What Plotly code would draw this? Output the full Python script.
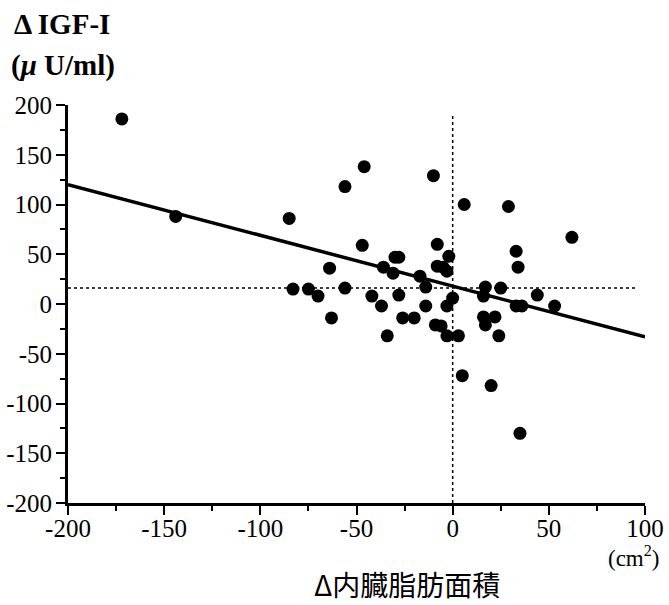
import plotly.graph_objects as go

# Scatter data: Δ visceral fat area (cm2) vs Δ IGF-I (μU/ml)
dx = [-172, -144, -85, -83, -75, -70, -64, -63, -56, -56, -46, -47, -42, -37, -36,
      -34, -31, -30, -28, -28, -26, -20, -17, -14, -14, -10, -9, -8, -8, -5,
      -6, -3, -3, -2, -3, 0, 3, 5, 6, 16, 16, 17, 17, 20, 22, 25,
      24, 29, 33, 33, 34, 36, 35, 44, 53, 62]
dy = [186, 88, 86, 15, 15, 8, 36, -14, 16, 118, 138, 59, 8, -2, 37,
      -32, 31, 47, 47, 9, -14, -14, 28, -2, 17, 129, -21, 60, 38, 37,
      -22, -2, -32, 48, 33, 6, -32, -72, 100, -13, 8, 17, -21, -82, -13, 16,
      -32, 98, -2, 53, 37, -2, -130, 9, -2, 67]

# Regression line end points
fit_x = [-200, 100]
fit_y = [120, -33]

# Reference dotted lines (mean levels)
href_x = [-200, 96]
href_y = [16, 16]
vref_x = [0, 0]
vref_y = [-200, 192]

xticks = [-200, -150, -100, -50, 0, 50, 100]
yticks = [-200, -150, -100, -50, 0, 50, 100, 150, 200]

L, R, T, B = 68, 645, 105, 503
W, H = 669, 605


def px(x):
    return (x - L) / (R - L)


def py(y):
    return (B - y) / (B - T)


fig = go.Figure()
fig.add_trace(go.Scatter(x=href_x, y=href_y, mode="lines",
                         line=dict(color="black", width=1.5, dash="dot"),
                         hoverinfo="skip", showlegend=False))
fig.add_trace(go.Scatter(x=vref_x, y=vref_y, mode="lines",
                         line=dict(color="black", width=1.5, dash="dot"),
                         hoverinfo="skip", showlegend=False))
fig.add_trace(go.Scatter(x=fit_x, y=fit_y, mode="lines",
                         line=dict(color="black", width=3.5),
                         showlegend=False))
fig.add_trace(go.Scatter(x=dx, y=dy, mode="markers",
                         marker=dict(color="black", size=13, line=dict(width=0)),
                         showlegend=False, cliponaxis=False))

tickfont = dict(family="Liberation Serif", size=25, color="black")
fig.update_xaxes(range=[-200, 100], tickvals=xticks, ticktext=[str(v) for v in xticks],
                 showline=True, linewidth=3, linecolor="black", mirror=False,
                 ticks="outside", ticklen=9, tickwidth=2, tickcolor="black",
                 minor=dict(dtick=25, tick0=0, ticks="outside", ticklen=5, tickwidth=2,
                            tickcolor="black", showgrid=False),
                 showgrid=False, zeroline=False, tickfont=tickfont,
                 ticklabelstandoff=-8, automargin=False)
fig.update_yaxes(range=[-200, 200], tickvals=yticks, ticktext=[str(v) for v in yticks],
                 showline=True, linewidth=3, linecolor="black", mirror=False,
                 ticks="outside", ticklen=9, tickwidth=2, tickcolor="black",
                 minor=dict(dtick=25, tick0=0, ticks="outside", ticklen=5, tickwidth=2,
                            tickcolor="black", showgrid=False),
                 showgrid=False, zeroline=False, tickfont=tickfont,
                 ticklabelstandoff=-1, automargin=False)

serif_bold = dict(family="Liberation Serif", size=29, color="black")
fig.add_annotation(text="<b>Δ IGF-I</b>", xref="paper", yref="paper",
                   x=px(12), y=py(24), xanchor="left", yanchor="middle",
                   showarrow=False, font=serif_bold)
fig.add_annotation(text="<b>(<i>μ</i> U/ml)</b>", xref="paper", yref="paper",
                   x=px(9), y=py(66), xanchor="left", yanchor="middle",
                   showarrow=False, font=serif_bold)
fig.add_annotation(text="Δ内臓脂肪面積", xref="paper", yref="paper",
                   x=px(407), y=py(584), xanchor="center", yanchor="middle",
                   showarrow=False,
                   font=dict(family="Noto Sans CJK JP", size=28, color="black"))
fig.add_annotation(text="(cm<sup>2</sup>)", xref="paper", yref="paper",
                   x=px(633), y=py(556), xanchor="center", yanchor="middle",
                   showarrow=False,
                   font=dict(family="Liberation Serif", size=23, color="black"))

fig.update_layout(width=W, height=H, margin=dict(l=L, r=W - R, t=T, b=H - B),
                  plot_bgcolor="white", paper_bgcolor="white", showlegend=False)

fig.write_html("out.html")
